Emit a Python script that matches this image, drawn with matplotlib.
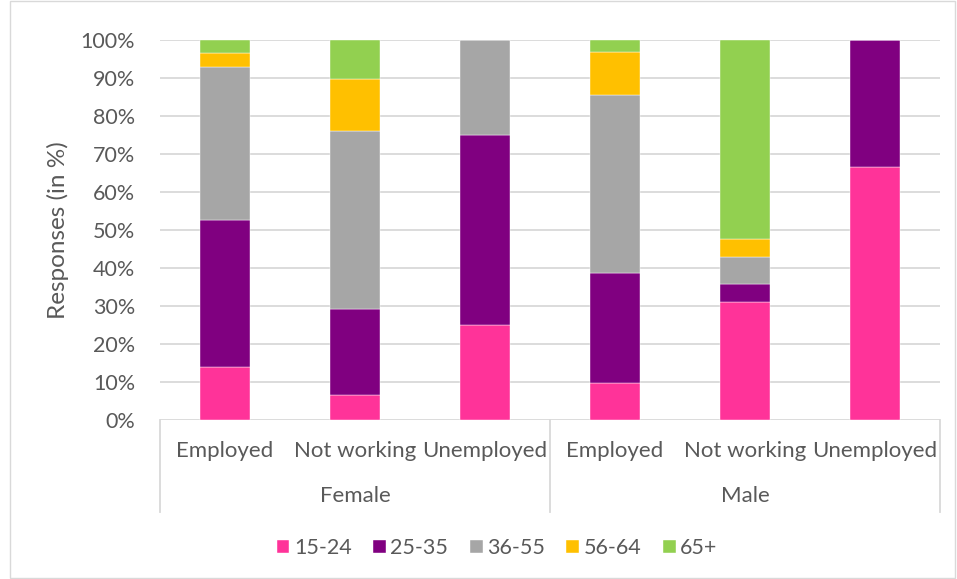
import matplotlib.pyplot as plt
from matplotlib.patches import Rectangle
import numpy as np

plt.rcParams['font.family'] = ['Lato', 'DejaVu Sans']

# survey shares by age group, in %
groups = ['Female', 'Male']
statuses = ['Employed', 'Not working', 'Unemployed']
age_bands = ['15-24', '25-35', '36-55', '56-64', '65+']
colors = ['#FF3399', '#800080', '#A6A6A6', '#FFC000', '#92D050']

# one list per age band, in order F-Emp, F-NotW, F-Unemp, M-Emp, M-NotW, M-Unemp
age_15_24 = [14.0, 6.6, 25.0, 9.7, 31.0, 66.7]
age_25_35 = [38.6, 22.5, 50.0, 29.0, 4.8, 33.3]
age_36_55 = [40.4, 47.0, 25.0, 46.8, 7.1, 0.0]
age_56_64 = [3.5, 13.6, 0.0, 11.3, 4.8, 0.0]
age_65 = [3.5, 10.3, 0.0, 3.2, 52.3, 0.0]
series = [age_15_24, age_25_35, age_36_55, age_56_64, age_65]

txt = '#595959'
grid = '#D9D9D9'

fig = plt.figure(figsize=(9.57, 5.79), dpi=100)
ax = fig.add_axes([160/957, 1-420/579, 780/957, 380/579])

x = np.arange(len(groups) * len(statuses))
bottom = np.zeros(len(x))
for vals, lab, c in zip(series, age_bands, colors):
    vals = np.array(vals)
    ax.bar(x, vals, 0.39, bottom=bottom, color=c, label=lab, zorder=3,
           edgecolor='white', linewidth=0.3)
    bottom += vals

ax.set_xlim(-0.5, len(x) - 0.5)
ax.set_ylim(0, 100)
ax.set_yticks(np.arange(0, 101, 10))
ax.set_yticklabels([f'{v}%' for v in range(0, 101, 10)])
ax.yaxis.grid(True, color=grid, linewidth=1.3, zorder=0)
ax.tick_params(axis='y', length=0, pad=18, labelsize=15.5, labelcolor=txt)
for s in ['left', 'right', 'top', 'bottom']:
    ax.spines[s].set_visible(False)
ax.set_ylabel('Responses (in %)', fontsize=17.5, color=txt, labelpad=8)

# two level category axis
ax.set_xticks(x)
ax.set_xticklabels(statuses * len(groups))
ax.tick_params(axis='x', length=0, pad=15, labelsize=16, labelcolor=txt)
tr = ax.get_xaxis_transform()
for i, g in enumerate(groups):
    ax.text(i * 3 + 1, -0.2, g, transform=tr, ha='center', va='center',
            fontsize=16, color=txt)
for xb in [-0.5, 2.5, 5.5]:
    ax.plot([xb, xb], [0, -0.242], transform=tr, color=grid, linewidth=1.3,
            clip_on=False)

fig.legend(loc='center', bbox_to_anchor=(497/957, 1-548/579), ncol=5,
           frameon=False, fontsize=15.5, labelcolor=txt, handlelength=0.6,
           handleheight=0.6, handletextpad=0.2, columnspacing=1.0)

fig.patches.append(Rectangle((10/957, 1/579), 945/957, 577/579, transform=fig.transFigure,
                             fill=False, edgecolor=grid, linewidth=1))

fig.savefig('out.png', dpi=100)
